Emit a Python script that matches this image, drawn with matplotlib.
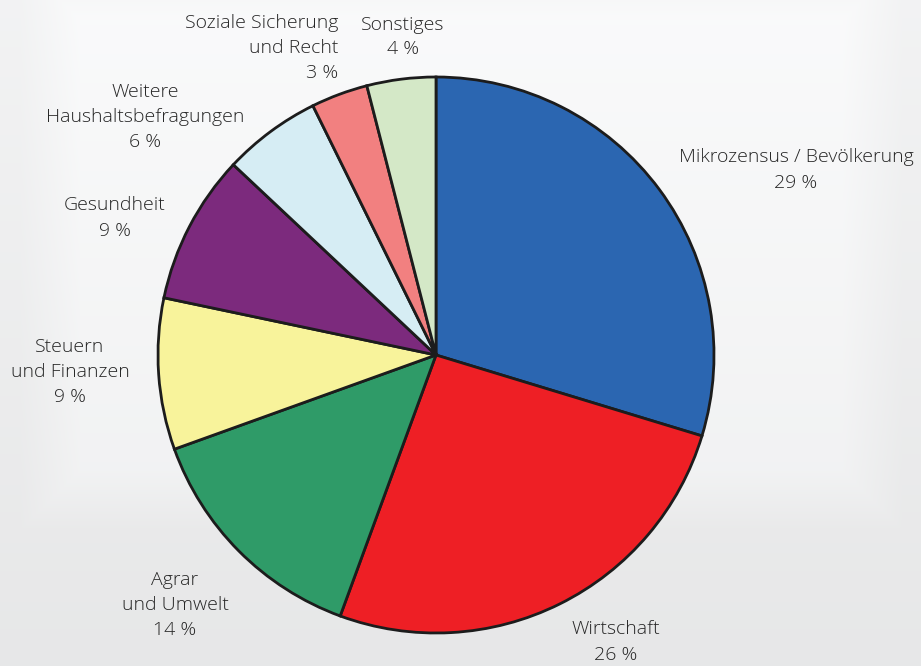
import numpy as np
import matplotlib
matplotlib.use("Agg")
import matplotlib.pyplot as plt

categories = ["Mikrozensus / Bevölkerung", "Wirtschaft", "Agrar\nund Umwelt",
              "Steuern\nund Finanzen", "Gesundheit", "Weitere\nHaushaltsbefragungen",
              "Soziale Sicherung\nund Recht", "Sonstiges"]
values = [29.7, 25.9, 13.9, 8.8, 8.7, 5.7, 3.3, 4.0]
pct_labels = ["29 %", "26 %", "14 %", "9 %", "9 %", "6 %", "3 %", "4 %"]
colors = ["#2b66b1", "#ee1f25", "#2f9b68", "#f8f39b", "#7c2a7d", "#d6edf4", "#f28080", "#d4e8c7"]

# label layout (pixel coords, top-left origin) and alignment
label_pos = [(796, 170), (616, 642), (175, 605), (70, 372), (115, 218), (145, 117), (338, 48), (403, 37)]
label_ha = ["center", "center", "center", "center", "center", "center", "right", "center"]

W, H = 921, 666
fig = plt.figure(figsize=(W / 100, H / 100), dpi=100)

# background
bg = fig.add_axes([0, 0, 1, 1])
yy, xx = np.mgrid[0:H, 0:W]
v = 0.955 - 0.045 * (yy / H)
inner = np.clip(np.minimum.reduce([(xx - 20) / 60, (W - 20 - xx) / 60, (yy + 40) / 60, (530 - yy) / 60]), 0, 1)
v = v + 0.03 * inner
bg.imshow(np.dstack([v * 0.995, v * 0.997, v]), extent=[0, W, H, 0], aspect="auto")
bg.set_xlim(0, W)
bg.set_ylim(H, 0)
bg.axis("off")

ax = fig.add_axes([0, 0, 1, 1])
ax.set_xlim(0, W)
ax.set_ylim(0, H)
ax.set_aspect("equal")
ax.axis("off")
ax.patch.set_alpha(0)

cx, cy, r = 436, H - 355, 278
ax.pie(values, colors=colors, startangle=90, counterclock=False, center=(cx, cy), radius=r,
       wedgeprops=dict(edgecolor="#1c1c1c", linewidth=2.0), frame=False)
ax.set_xlim(0, W)
ax.set_ylim(0, H)

for cat, pct, (px, py), ha in zip(categories, pct_labels, label_pos, label_ha):
    ax.text(px, H - py, cat + "\n" + pct, ha=ha, va="center", multialignment=ha,
            fontsize=14, fontweight="light", family=["Open Sans", "DejaVu Sans"],
            color="#262626", linespacing=1.5)

fig.savefig("out.png", dpi=100)
